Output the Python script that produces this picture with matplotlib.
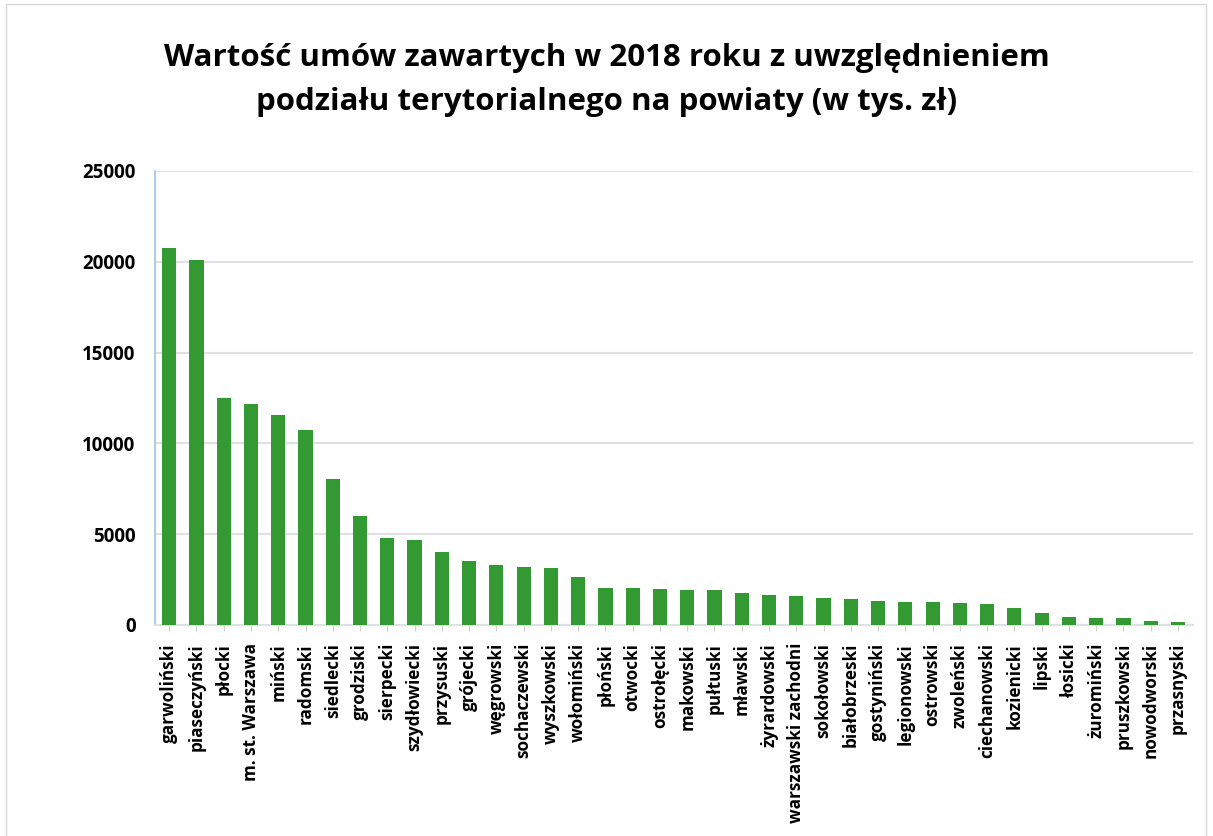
import matplotlib
matplotlib.use('Agg')
import matplotlib.pyplot as plt
from matplotlib.patches import Rectangle

plt.rcParams['font.family'] = ['Open Sans', 'DejaVu Sans']

powiaty = ['garwoliński', 'piaseczyński', 'płocki', 'm. st. Warszawa', 'miński',
           'radomski', 'siedlecki', 'grodziski', 'sierpecki', 'szydłowiecki',
           'przysuski', 'grójecki', 'węgrowski', 'sochaczewski', 'wyszkowski',
           'wołomiński', 'płoński', 'otwocki', 'ostrołęcki', 'makowski',
           'pułtuski', 'mławski', 'żyrardowski', 'warszawski zachodni', 'sokołowski',
           'białobrzeski', 'gostyniński', 'legionowski', 'ostrowski', 'zwoleński',
           'ciechanowski', 'kozienicki', 'lipski', 'łosicki', 'żuromiński',
           'pruszkowski', 'nowodworski', 'przasnyski']
wartosci = [20770, 20120, 12520, 12150, 11580,
            10750, 8030, 6000, 4790, 4660,
            4030, 3550, 3330, 3200, 3150,
            2670, 2060, 2040, 1990, 1930,
            1900, 1770, 1640, 1600, 1490,
            1440, 1340, 1290, 1250, 1215,
            1160, 955, 640, 460, 400,
            365, 240, 165]
y_ticks = [0, 5000, 10000, 15000, 20000, 25000]

tytul = 'Wartość umów zawartych w 2018 roku z uwzględnieniem\npodziału terytorialnego na powiaty (w tys. zł)'

fig = plt.figure(figsize=(12.13, 8.36), dpi=100)
ax = fig.add_axes([155 / 1213, 1 - 625 / 836, (1193 - 155) / 1213, (625 - 171) / 836])

x = range(len(powiaty))
ax.bar(x, wartosci, width=0.52, color='#339933', zorder=3)

ax.set_ylim(0, 25000)
ax.set_xlim(-0.52, len(powiaty) - 0.45)
ax.set_yticks(y_ticks)
ax.set_yticklabels([str(v) for v in y_ticks], fontsize=13.5, fontweight='bold')
ax.set_xticks(list(x))
ax.set_xticklabels(powiaty, rotation=90, fontsize=12.3, fontweight='bold')
ax.yaxis.grid(True, color='#dde1e6', linewidth=1.5, zorder=0)
ax.tick_params(axis='y', length=0, pad=14)
ax.tick_params(axis='x', length=4, color='#d0d0d0', pad=9)

for side in ['top', 'right']:
    ax.spines[side].set_visible(False)
ax.spines['left'].set_color('#9dc3e6')
ax.spines['left'].set_linewidth(1.2)
ax.spines['bottom'].set_color('#dde1e6')
ax.spines['bottom'].set_linewidth(1.5)

fig.text(0.5, 1 - 80 / 836, tytul, ha='center', va='center', fontsize=22.5,
         fontweight='bold', linespacing=1.6)

fig.patches.append(Rectangle((6 / 1213, -0.01), 1200 / 1213, 1 - 4 / 836 + 0.01,
                             transform=fig.transFigure, fill=False,
                             edgecolor='#d9d9d9', linewidth=1))

fig.savefig('out.png', dpi=100)
